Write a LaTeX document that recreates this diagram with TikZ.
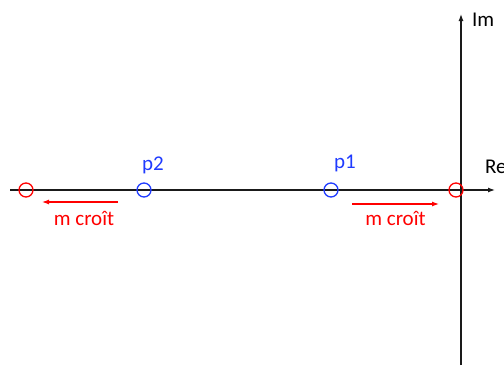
\documentclass[tikz,border=0pt]{standalone}
\usepackage{fontspec}
\setmainfont{Carlito}
\usetikzlibrary{positioning,arrows.meta}
\definecolor{polered}{HTML}{FF0000}
\definecolor{poleblue}{HTML}{1F3BFF}
\definecolor{axisgray}{HTML}{1A1A1A}

\begin{document}
\begin{tikzpicture}[
    x=1pt, y=-1pt,
    >={Latex[length=7pt,width=5pt]},
    every node/.style={font=\fontsize{21}{25}\selectfont},
    axis/.style={->, line width=1.2pt, draw=axisgray},
    pole/.style={
        circle,
        draw,
        line width=1.3pt,
        minimum size=14pt,
        inner sep=0pt
    },
    mover/.style={->, line width=1.2pt, polered},
    labeltext/.style={inner sep=1pt}
]

\useasboundingbox (0,0) rectangle (504,365);

% axes
\coordinate (xstart) at (10,190);
\coordinate (xend) at (495,190);
\coordinate (ystart) at (461,365);
\coordinate (yend) at (461,14);
\draw[axis] (xstart) -- (xend);
\draw[axis] (ystart) -- (yend);
\node[labeltext, anchor=west] (re) at (484,167) {Re};
\node[labeltext, anchor=west] (im) at (471,20) {Im};

% poles
\node[pole, draw=polered] (zeroleft) at (26,190) {};
\node[pole, draw=polered] (zeroright) at (456,190) {};
\node[pole, draw=poleblue] (p2) at (144,190) {};
\node[pole, draw=poleblue] (p1) at (331,190) {};
\node[labeltext, text=poleblue] (p2label) at (153,165) {p2};
\node[labeltext, text=poleblue] (p1label) at (345,163) {p1};

% motion of the poles
\coordinate (leftfrom) at (118,202);
\coordinate (leftto) at (42,202);
\coordinate (rightfrom) at (352,204);
\coordinate (rightto) at (439,204);
\draw[mover] (leftfrom) -- node[labeltext, below=8pt, text=polered, xshift=4pt] {m croît} (leftto);
\draw[mover] (rightfrom) -- node[labeltext, below=6pt, text=polered] {m croît} (rightto);

\end{tikzpicture}
\end{document}
